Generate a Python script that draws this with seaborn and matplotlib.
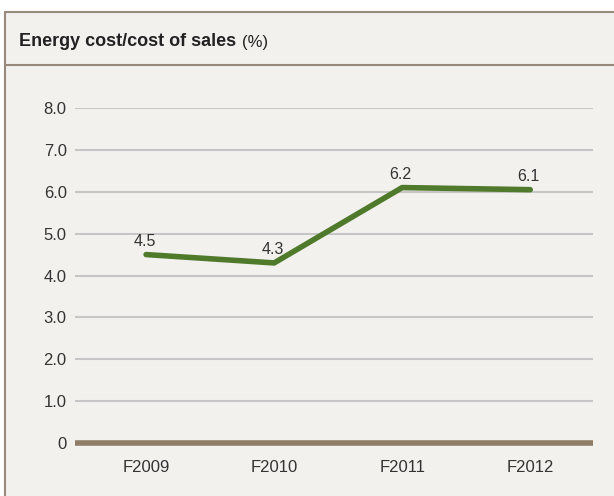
import pandas as pd
import matplotlib.pyplot as plt
import seaborn as sns
from matplotlib.patches import Rectangle
from matplotlib.lines import Line2D

plt.switch_backend('Agg')

# data
years = ['F2009', 'F2010', 'F2011', 'F2012']
ratio = [4.5, 4.3, 6.1, 6.05]          # plotted positions
value_labels = ['4.5', '4.3', '6.2', '6.1']
y_ticks = [0, 1, 2, 3, 4, 5, 6, 7, 8]
y_tick_labels = ['0', '1.0', '2.0', '3.0', '4.0', '5.0', '6.0', '7.0', '8.0']

sns.set_style('white')
plt.rcParams['font.family'] = ['Liberation Sans', 'DejaVu Sans']

W, H = 614, 496
fig = plt.figure(figsize=(W / 100, H / 100), dpi=100, facecolor='white')

# panel background with border and title band
bg = '#f2f1ee'
edge = '#978a7c'
fig.patches.append(Rectangle((5 / W, -0.05), 1.1, 1 - 12 / H + 0.05, transform=fig.transFigure,
                             facecolor=bg, edgecolor=edge, linewidth=1.5, zorder=-2))
fig.lines.append(Line2D([5 / W, 1], [1 - 65 / H, 1 - 65 / H], transform=fig.transFigure,
                        color=edge, linewidth=1.5, zorder=-1))
fig.text(19 / W, 1 - 41 / H, 'Energy cost/cost of sales', fontsize=13, fontweight='bold',
         color='#222222', va='center', ha='left')
fig.text(242 / W, 1 - 42 / H, '(%)', fontsize=12, color='#222222', va='center', ha='left')

ax = fig.add_axes([75 / W, 1 - 443 / H, (593 - 75) / W, (443 - 108) / H])
ax.set_facecolor('none')

df = pd.DataFrame({'year': years, 'ratio': ratio})
for y in y_ticks[1:]:
    ax.axhline(y, color='#c6c6c6', linewidth=1.5, zorder=1)
ax.axhline(0, color='#8e7c68', linewidth=4, zorder=2, clip_on=False,
           solid_capstyle='butt')

sns.lineplot(data=df, x='year', y='ratio', ax=ax, sort=False, color='#4f7a2b',
             linewidth=4, zorder=3)
ax.lines[-1].set_solid_capstyle('round')
for i, (v, lab) in enumerate(zip(ratio, value_labels)):
    ax.annotate(lab, (i, v), xytext=(-1, 4), textcoords='offset points', ha='center',
                va='bottom', fontsize=11.5, color='#333333')

ax.set_xlim(-0.555, 3.49)
ax.set_ylim(0, 8.0)
ax.set_yticks(y_ticks)
ax.set_yticklabels(y_tick_labels)
ax.tick_params(axis='both', length=0, labelsize=12, colors='#333333')
ax.tick_params(axis='y', pad=6)
ax.tick_params(axis='x', pad=12)
ax.set_xlabel('')
ax.set_ylabel('')
sns.despine(ax=ax, left=True, bottom=True)

fig.savefig('out.png', dpi=100, facecolor=fig.get_facecolor())
